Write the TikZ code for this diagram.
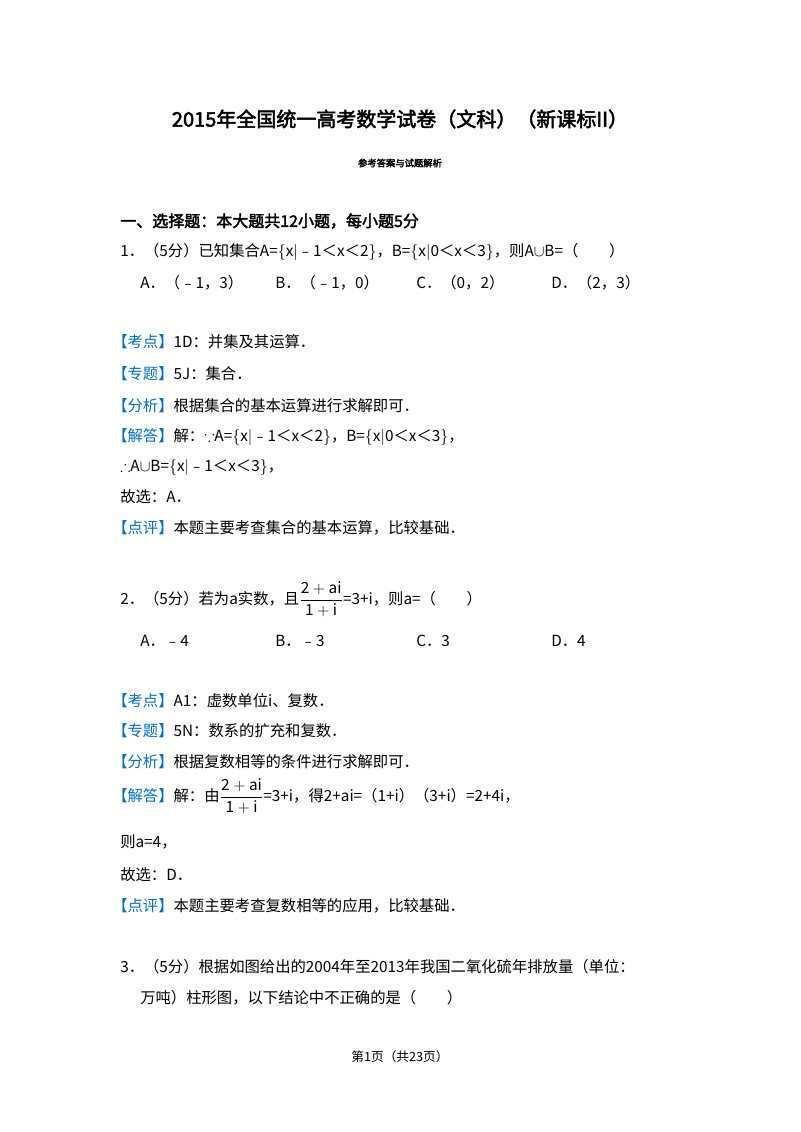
\documentclass[tikz,border=0pt]{standalone}
\usepackage{amssymb}
\usepackage{fontspec}
\setmainfont{Noto Sans CJK SC}
\newfontfamily\cjkb[FakeBold=2.5]{Noto Sans CJK SC}
\definecolor{lblue}{RGB}{0,112,192}
\newcommand{\myfr}{$\displaystyle\frac{\mathrm{2+ai}}{\mathrm{1+i}}$}
\begin{document}
\begin{tikzpicture}[x=0.75pt,y=-0.75pt,
  t/.style={anchor=west,inner sep=0pt,font=\fontsize{11.5pt}{13pt}\selectfont}]
\useasboundingbox (0,0) rectangle (800,1132);
\node[inner sep=0pt,font=\cjkb\fontsize{15pt}{17pt}\selectfont] (title) at (400,119) {2015年全国统一高考数学试卷（文科）（新课标II）};
\node[inner sep=0pt,font=\cjkb\fontsize{7pt}{8pt}\selectfont] (sub) at (400,163) {参考答案与试题解析};
\node[t,font=\cjkb\fontsize{12pt}{14pt}\selectfont] (sec) at (120,221) {一、选择题：本大题共12小题，每小题5分};
\node[t] (q1) at (120,252) {1．（5分）已知集合A=$\{$x$|$﹣1＜x＜2$\}$，B=$\{$x$|$0＜x＜3$\}$，则A$\cup$B=（\qquad）};
\node[t] (q1a) at (140,283) {A．（﹣1，3）};
\node[t] (q1b) at (275,283) {B．（﹣1，0）};
\node[t] (q1c) at (416,283) {C．（0，2）};
\node[t] (q1d) at (551,283) {D．（2，3）};
\node[t] (k1) at (112,342) {\textcolor{lblue}{【考点】}1D：并集及其运算．};
\node[t] (z1) at (112,374) {\textcolor{lblue}{【专题】}5J：集合．};
\node[t] (f1) at (112,406) {\textcolor{lblue}{【分析】}根据集合的基本运算进行求解即可．};
\node[t] (j1) at (112,437) {\textcolor{lblue}{【解答】}解：$\because$A=$\{$x$|$﹣1＜x＜2$\}$，B=$\{$x$|$0＜x＜3$\}$，};
\node[t] (j1b) at (120,467) {$\therefore$A$\cup$B=$\{$x$|$﹣1＜x＜3$\}$，};
\node[t] (j1c) at (120,497) {故选：A．};
\node[t] (p1) at (112,528) {\textcolor{lblue}{【点评】}本题主要考查集合的基本运算，比较基础．};
\node[t] (q2) at (120,599) {2．（5分）若为a实数，且\myfr=3+i，则a=（\qquad）};
\node[t] (q2a) at (140,641) {A．﹣4};
\node[t] (q2b) at (275,641) {B．﹣3};
\node[t] (q2c) at (416,641) {C．3};
\node[t] (q2d) at (551,641) {D．4};
\node[t] (k2) at (112,701) {\textcolor{lblue}{【考点】}A1：虚数单位i、复数．};
\node[t] (z2) at (112,731) {\textcolor{lblue}{【专题】}5N：数系的扩充和复数．};
\node[t] (f2) at (112,762) {\textcolor{lblue}{【分析】}根据复数相等的条件进行求解即可．};
\node[t] (j2) at (112,796) {\textcolor{lblue}{【解答】}解：由\myfr=3+i，得2+ai=（1+i）（3+i）=2+4i，};
\node[t] (j2b) at (120,842) {则a=4，};
\node[t] (j2c) at (120,875) {故选：D．};
\node[t] (p2) at (112,906) {\textcolor{lblue}{【点评】}本题主要考查复数相等的应用，比较基础．};
\node[t] (q3) at (120,967) {3．（5分）根据如图给出的2004年至2013年我国二氧化硫年排放量（单位：};
\node[t] (q3b) at (140,998) {万吨）柱形图，以下结论中不正确的是（\qquad）};
\node[inner sep=0pt,font=\fontsize{9.5pt}{11pt}\selectfont] (foot) at (400,1057) {第1页（共23页）};
\end{tikzpicture}
\end{document}
